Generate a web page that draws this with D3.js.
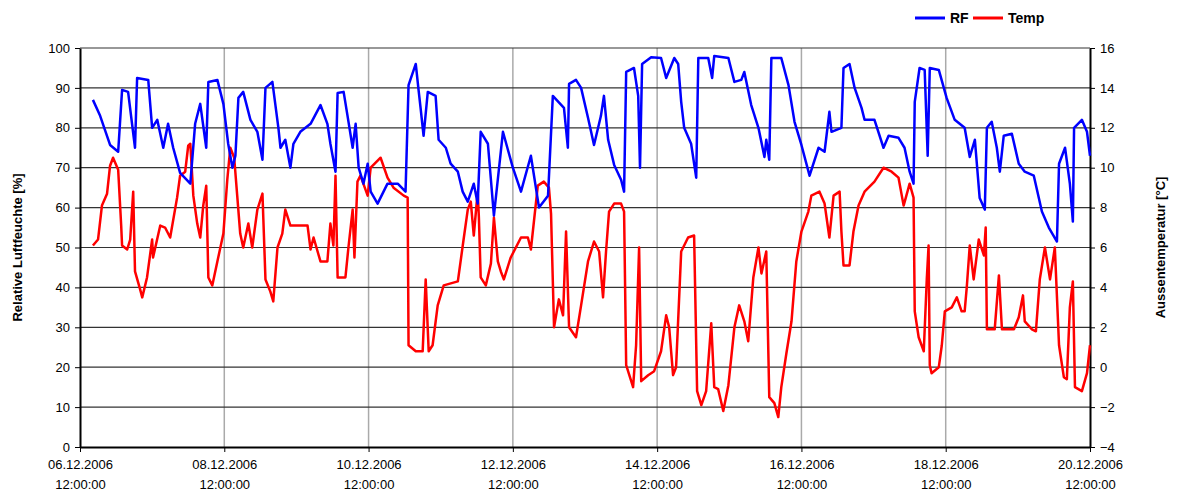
<!DOCTYPE html>
<html>
<head>
<meta charset="utf-8">
<script src="https://cdn.jsdelivr.net/npm/d3@7"></script>
<style>
body { margin: 0; background: #fff; }
text { font-family: "Liberation Sans", Arial, sans-serif; }
</style>
</head>
<body>
<svg width="1178" height="499"></svg>
<script>
// Stunden ab 06.12.2006 12:00
const rfHours = [4.3,6.7,10,12.7,14,16,18.3,19,22.7,24,25.7,27.7,29.3,31,33.3,36.7,38.3,40,42,42.7,45.7,47.7,49.3,50.7,51.7,52.7,54.3,56.7,59,60.7,61.7,64,66,66.7,68.3,70,71,73.3,76.7,80,82.3,83.3,85,85.7,87.7,89,90.7,91.7,92.7,94.3,95.7,96.7,99,102.3,105.7,108.3,109.3,111.7,112.7,113.3,114.3,115.7,118.3,119.3,121.7,123.3,125.7,127.3,129,131,132.3,133.3,135.7,137.7,140.7,144,146.7,150,152.7,155.7,157.3,161,162.3,162.7,165,166.7,169,171,173.3,174.3,175.7,177.7,180,181,181.7,184.3,185.7,186.3,187,190,193.3,195,197.7,199,200,201,203.3,205,205.7,209,210.3,211,215.7,217.7,220,221,223.3,225.7,227.7,228.3,229.3,230,233.3,235.7,237.7,240,242.7,245.7,247.7,249.3,250,253.3,254,256,257.7,260,261,264.3,267.3,269,272.3,274.3,276,277.3,277.7,279.3,281,282,282.7,285.7,288.3,291,294.3,296,297.7,299.3,301,301.7,303.3,305,306,307.3,310,312.3,314.3,317.3,320,322.3,325,325.7,327.7,329.3,330.3,330.7,333.3,335,336];
const rfValues = [87,83,75.7,74,89.5,89,75,92.5,92,80,82,75,81,75,68.7,66,81,86,75,91.5,92,86,76,70,73,87.5,89,82,79,72,90,91.5,80,75,77,70,76,79,81,85.7,81,76,69,88.7,89,83,75,81,70,66,71,64,61,66,66,64,90.7,96,89,85,78,89,88,77,75,71,69,64,61.5,66,61,79,76,58,79,70,64,73,60,63,88,85,75,91,92,90,82.5,75.7,83,88,77,70.7,67,64,94,95,88,70,96,97.7,97.5,92.5,97.5,96,86.5,80,76,67.5,97.5,97.5,92.5,98,97.5,91.5,92,94,85.7,80,72.7,77,72,97.5,97.5,90.7,81.5,75.7,68,75,74,84,79,80,95,96,90,85,82,82,75,78,77.5,75,69,66,86.5,95,94.5,73,95,94.5,87.5,82,80,72.7,77,62.4,59.5,80,81.5,75,69,78,78.5,71,69,68,59,55,51.5,71,75,66,56.5,80,82,79,73];

const tempHours = [4.3,6,7.3,9,10,11,12.7,13.7,14,15.7,16.7,17.7,18.3,20,20.7,22.3,24,24.3,26.7,28.3,30,32.3,33.3,35,36,36.7,37.7,39,40,41,42,42.7,44,45.7,47.7,49,50,51.3,52.3,53.3,54.3,56,57.3,59,60.7,61,61.7,63.3,64.3,65.7,67.3,68.3,70,73.3,75.7,76.7,77.7,80,82.3,83.3,84.3,85,85.7,88.3,89.3,90.7,91.3,92.3,93.3,95.7,96.7,100,102.3,104.3,107.7,109,109.3,111.7,114,115,116,117.3,119,121,125.7,127.7,129,130,131,132.3,132.7,133.3,135,136.7,137.7,139,140,141,143.3,146.7,149,150,152.3,154.3,156,156.7,157.7,159.3,160.7,161.7,162.7,165,166.7,169,171,172.7,174,175,176,177.7,180,181,181.7,184,185,186,186.7,189,191,193.3,195,196,197.3,198.3,200,202.3,204.3,205.3,206.7,208.3,210,211,212.3,214,215.7,217.7,219.3,221,222.3,224,225.7,226.7,228.3,229.3,231,232.3,233.3,235,236.7,238.3,240,242.3,243.3,246,247.7,249.3,250.7,252.7,253.3,254,256,257.3,259,261,264.3,267.3,270,272.3,274,276,277.3,277.7,279,280.7,281.7,282.3,282.7,283.3,285.7,286.7,287.7,290,291.7,293.3,294.3,295,296,297.3,299,300.7,301.3,301.7,304.3,305.7,306.7,310.7,312.3,313.7,314.3,316.7,318,319.3,321,322.7,324.3,325.7,327.3,328.3,329.3,330.3,331,333.3,335,336];
const tempValues = [6.1,6.4,8.1,8.7,10.1,10.5,9.9,7.1,6.1,5.9,6.4,8.8,4.8,3.9,3.5,4.5,6.4,5.5,7.1,7,6.5,8.5,9.6,9.8,11.1,11.2,8.6,7.2,6.5,8.1,9.1,4.5,4.1,5.3,6.7,9.4,11,10.5,8.6,6.7,6,7.2,6,7.9,8.7,7.4,4.4,3.8,3.3,6,6.7,7.9,7.1,7.1,7.1,5.9,6.5,5.3,5.3,7.2,6.1,9.6,4.5,4.5,6,7.9,5.5,9.3,9.6,8.6,10,10.5,9.5,9,8.6,8.5,1.1,0.8,0.8,4.4,0.8,1.1,3.1,4.1,4.3,6.5,7.9,8.3,6.6,8.8,7.5,4.5,4.1,5.2,7.5,5.3,4.8,4.4,5.5,6.5,6.5,5.9,9.1,9.3,9,7.7,2,3.4,2.6,6.8,2,1.5,3.1,5.3,6.3,5.8,3.5,5.8,7.8,8.2,8.2,7.8,0.1,-1,1.1,6,-0.7,-0.4,-0.2,0.8,2.6,2,-0.4,0,5.8,6.5,6.6,-1.2,-1.9,-1.2,2.2,-1,-1.1,-2.2,-0.9,2,3.1,2.3,1.3,4.5,6,4.7,5.8,-1.5,-1.8,-2.5,-1,0.7,2.3,5.3,6.8,7.8,8.6,8.8,8.2,6.5,8.6,8.8,6.8,5.1,5.1,6.8,8.1,8.8,9.3,10,9.8,9.5,8.1,9.2,8.5,2.8,1.5,0.8,4.4,6.1,0.1,-0.3,0,1.1,2.8,3,3.5,2.8,2.8,4,6.1,4.4,6.4,5.6,7,1.9,1.9,4.6,1.9,1.9,2.5,3.6,2.3,1.9,1.8,4.4,6,4.4,6,1.1,-0.5,-0.6,3,4.3,-1,-1.2,-0.3,1.1];

const rfTicks = d3.range(0, 101, 10);
const tempTicks = d3.range(-4, 17, 2);
const start = new Date(2006, 11, 6, 12);
const end = new Date(2006, 11, 20, 12);
const xTicks = d3.range(0, 8).map(i => new Date(2006, 11, 6 + 2 * i, 12));

const svg = d3.select("svg");
const margin = {left: 80, right: 88, top: 48, bottom: 52};
const width = 1178 - margin.left - margin.right;
const height = 499 - margin.top - margin.bottom;
const g = svg.append("g").attr("transform", "translate(" + margin.left + "," + margin.top + ")");

const hourToDate = h => new Date(start.getTime() + h * 3600000);
const x = d3.scaleTime().domain([start, end]).range([0, width]);
const yL = d3.scaleLinear().domain([0, 100]).range([height, 0]);
const yR = d3.scaleLinear().domain([-4, 16]).range([height, 0]);

// Gitter
g.selectAll(".vgrid").data(xTicks.slice(1, -1)).enter().append("line")
    .attr("x1", d => x(d)).attr("x2", d => x(d))
    .attr("y1", 0).attr("y2", height)
    .attr("stroke", "#aaa").attr("stroke-width", 1.5);
g.selectAll(".hgrid").data(rfTicks.slice(1)).enter().append("line")
    .attr("x1", 0).attr("x2", width)
    .attr("y1", d => yL(d)).attr("y2", d => yL(d))
    .attr("stroke", "#333").attr("stroke-width", 1.2);

// Achsen
const axL = g.append("g").call(d3.axisLeft(yL).tickValues(rfTicks).tickSize(5).tickSizeOuter(0));
const axR = g.append("g").attr("transform", "translate(" + width + ",0)")
    .call(d3.axisRight(yR).tickValues(tempTicks).tickSize(5).tickSizeOuter(0));
const axB = g.append("g").attr("transform", "translate(0," + height + ")")
    .call(d3.axisBottom(x).tickValues(xTicks).tickSize(5).tickSizeOuter(0).tickFormat(""));
[axL, axR, axB].forEach(a => {
    a.select(".domain").attr("stroke", "#000").attr("stroke-width", 2);
    a.selectAll(".tick line").attr("stroke", "#000");
    a.selectAll("text").attr("font-size", 13).attr("fill", "#000")
        .style("font-family", "Liberation Sans, Arial, sans-serif");
});
axL.selectAll("text").attr("x", -10);
axR.selectAll("text").attr("x", 10);

const fmt = d3.timeFormat("%d.%m.%Y");
axB.selectAll(".tick").each(function(d) {
    const t = d3.select(this).append("text").attr("fill", "#000").attr("font-size", 13).attr("text-anchor", "middle");
    t.append("tspan").attr("x", 0).attr("y", 22).text(fmt(d));
    t.append("tspan").attr("x", 0).attr("y", 42).text("12:00:00");
});

// Linien
const lineRF = d3.line().x((d, i) => x(hourToDate(rfHours[i]))).y(d => yL(d));
const lineT = d3.line().x((d, i) => x(hourToDate(tempHours[i]))).y(d => yR(d));
g.append("path").datum(tempValues).attr("d", lineT)
    .attr("fill", "none").attr("stroke", "#ff0000").attr("stroke-width", 2.5).attr("stroke-linejoin", "round");
g.append("path").datum(rfValues).attr("d", lineRF)
    .attr("fill", "none").attr("stroke", "#0000ff").attr("stroke-width", 2.5).attr("stroke-linejoin", "round");

// Achsentitel
svg.append("text").attr("transform", "translate(22," + (margin.top + height / 2) + ") rotate(-90)")
    .attr("text-anchor", "middle").attr("font-size", 13).attr("font-weight", "bold").text("Relative Luftfeuchte [%]");
svg.append("text").attr("transform", "translate(1165," + (margin.top + height / 2) + ") rotate(-90)")
    .attr("text-anchor", "middle").attr("font-size", 13).attr("font-weight", "bold").text("Aussentemperatur [°C]");

// Legende
const legend = [{name: "RF", color: "#0000ff", x: 915}, {name: "Temp", color: "#ff0000", x: 973}];
legend.forEach(l => {
    svg.append("line").attr("x1", l.x).attr("x2", l.x + 30).attr("y1", 18).attr("y2", 18)
        .attr("stroke", l.color).attr("stroke-width", 3);
    svg.append("text").attr("x", l.x + 35).attr("y", 23).attr("font-size", 14).attr("font-weight", "bold").text(l.name);
});
</script>
</body>
</html>
